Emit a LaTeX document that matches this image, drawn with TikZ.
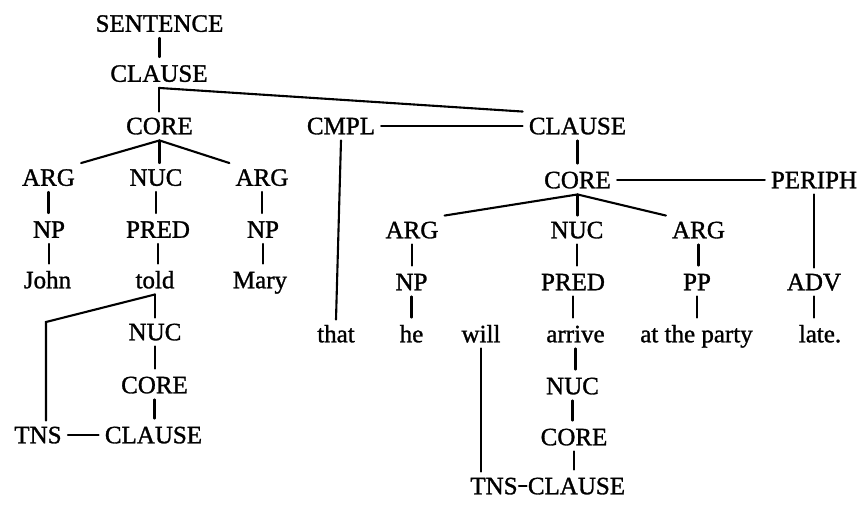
\documentclass[tikz,border=0pt]{standalone}
\usepackage{fontspec}
\setmainfont{Liberation Serif}[FakeBold=1]
\newfontfamily\lblfont{Liberation Serif}[FakeBold=1.2]
\begin{document}
\begin{tikzpicture}[x=1pt,y=-1pt,
  lbl/.style={inner xsep=6pt, inner ysep=6pt, text height=16.5pt, text depth=0pt,
              font=\lblfont\fontsize{25}{30}\selectfont},
  tight/.style={lbl, inner xsep=1pt},
  edge/.style={line width=2.1pt, line cap=round},
  vedge/.style={edge, shorten >=2pt}]
\useasboundingbox (0,0) rectangle (862,504);
% left part
\node[lbl] (sent)   at (159.5,23.5) {SENTENCE};
\node[lbl] (cla)    at (159,73.5)   {CLAUSE};
\node[lbl] (corea)  at (159.5,126)  {CORE};
\node[lbl] (cmpl)   at (341,126)    {CMPL};
\node[lbl] (clb)    at (577.5,126)  {CLAUSE};
\node[lbl] (argA)   at (48.5,177.5) {ARG};
\node[lbl] (nucA)   at (156,177.5)  {NUC};
\node[lbl] (argB)   at (262,177.5)  {ARG};
\node[lbl] (npA)    at (49,229.5)   {NP};
\node[lbl] (predA)  at (158,229.5)  {PRED};
\node[lbl] (npB)    at (263,229.5)  {NP};
\node[lbl] (john)   at (47.5,280)   {John};
\node[lbl] (told)   at (155,280)    {told};
\node[lbl] (mary)   at (260,280)    {Mary};
\node[lbl] (nucC)   at (155,332)    {NUC};
\node[lbl] (coreC)  at (154.5,385)  {CORE};
\node[lbl] (tnsA)   at (38,435)     {TNS};
\node[lbl] (clc)    at (153.5,435)  {CLAUSE};
\node[lbl] (that)   at (336,334)    {that};
% right part
\node[lbl] (coreb)  at (577.5,180)  {CORE};
\node[lbl] (periph) at (814,180)    {PERIPH};
\node[lbl] (argC)   at (412,230)    {ARG};
\node[lbl] (nucB)   at (577,230)    {NUC};
\node[lbl] (argD)   at (698.5,230)  {ARG};
\node[lbl] (npC)    at (411.5,282)  {NP};
\node[lbl] (predB)  at (573,282)    {PRED};
\node[lbl] (pp)     at (697,282)    {PP};
\node[lbl] (adv)    at (814,282)    {ADV};
\node[lbl] (he)     at (411.5,334)  {he};
\node[lbl] (will)   at (481,334)    {will};
\node[lbl] (arrive) at (575.5,334)  {arrive};
\node[lbl] (party)  at (696.5,334)  {at the party};
\node[lbl] (late)   at (820,334)    {late.};
\node[lbl] (nucD)   at (572.5,386)  {NUC};
\node[lbl] (coreD)  at (574,437)    {CORE};
\node[tight] (tnsB) at (494,486)    {TNS};
\node[tight] (cld)  at (576.5,486)  {CLAUSE};
\coordinate (bk) at (46,322);
% connectors
\draw[vedge] (sent.south) -- (sent.south |- cla.north);
\draw[edge] (cla.south) -- (cla.south |- corea.north);
\draw[edge] (cla.south) -- (clb.north west);
\draw[edge] (cmpl.east) -- (clb.west);
\draw[edge] (cmpl.south) -- (that.north);
\draw[edge] (corea.south) -- (argA.north east);
\draw[edge] (corea.south) -- (corea.south |- nucA.north);
\draw[edge] (corea.south) -- (argB.north west);
\draw[vedge] (argA.south) -- (argA.south |- npA.north);
\draw[vedge] (nucA.south) -- (nucA.south |- predA.north);
\draw[vedge] (argB.south) -- (argB.south |- npB.north);
\draw[vedge] (npA.south) -- (npA.south |- john.north);
\draw[vedge] (predA.south) -- (predA.south |- told.north);
\draw[vedge] (npB.south) -- (npB.south |- mary.north);
\draw[edge] (told.south) -- (told.south |- nucC.north);
\draw[edge] (told.south) -- (bk) -- (bk |- tnsA.north);
\draw[vedge] (nucC.south) -- (nucC.south |- coreC.north);
\draw[vedge] (coreC.south) -- (coreC.south |- clc.north);
\draw[edge] (tnsA.east) -- (clc.west);
\draw[vedge] (clb.south) -- (clb.south |- coreb.north);
\draw[edge] (coreb.east) -- (periph.west);
\draw[edge] (periph.south) -- (periph.south |- adv.north);
\draw[vedge] (adv.south) -- (adv.south |- late.north);
\draw[edge] (coreb.south) -- (argC.north east);
\draw[edge] (coreb.south) -- (coreb.south |- nucB.north);
\draw[edge] (coreb.south) -- (argD.north west);
\draw[vedge] (argC.south) -- (argC.south |- npC.north);
\draw[vedge] (nucB.south) -- (nucB.south |- predB.north);
\draw[vedge] (argD.south) -- (argD.south |- pp.north);
\draw[vedge] (npC.south) -- (npC.south |- he.north);
\draw[vedge] (predB.south) -- (predB.south |- arrive.north);
\draw[vedge] (pp.south) -- (pp.south |- party.north);
\draw[vedge] (arrive.south) -- (arrive.south |- nucD.north);
\draw[vedge] (nucD.south) -- (nucD.south |- coreD.north);
\draw[vedge] (coreD.south) -- (coreD.south |- cld.north);
\draw[edge] (tnsB.east) -- (cld.west);
\draw[edge] (will.south) -- (will.south |- tnsB.north);
\end{tikzpicture}
\end{document}
